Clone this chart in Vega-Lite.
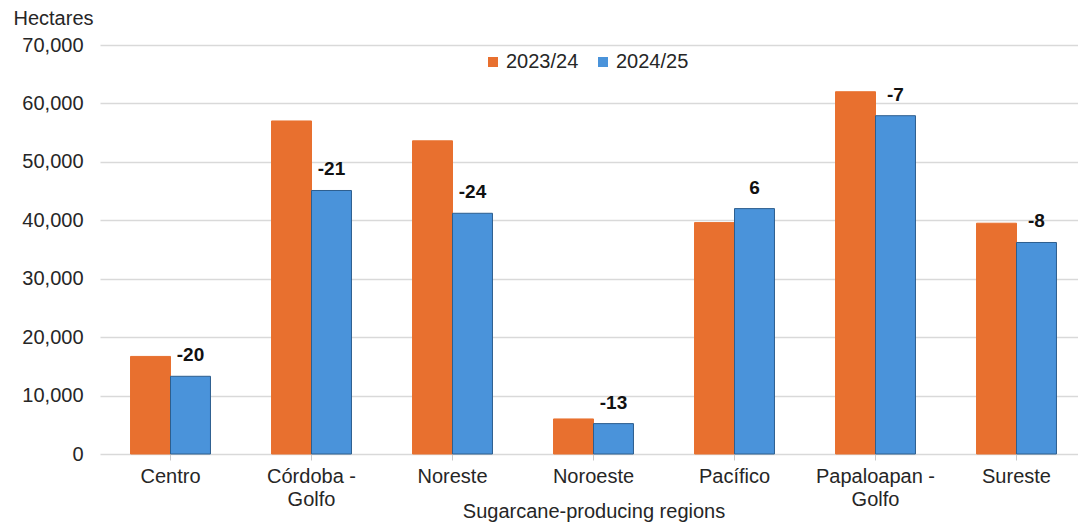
{
  "$schema": "https://vega.github.io/schema/vega-lite/v6.json",
  "width": 987,
  "height": 409,
  "autosize": {"type": "none"},
  "padding": {"left": 100, "top": 45, "right": 0, "bottom": 73},
  "background": "white",
  "config": {
    "view": {"stroke": null},
    "font": "Liberation Sans",
    "axis": {"labelFont": "Liberation Sans", "titleFont": "Liberation Sans"}
  },
  "data": {
    "values": [
      {"region": "Centro", "season": "2023/24", "hectares": 16700, "change": null},
      {"region": "Centro", "season": "2024/25", "hectares": 13300, "change": "-20"},
      {"region": "Córdoba - Golfo", "season": "2023/24", "hectares": 57000, "change": null},
      {"region": "Córdoba - Golfo", "season": "2024/25", "hectares": 45100, "change": "-21"},
      {"region": "Noreste", "season": "2023/24", "hectares": 53600, "change": null},
      {"region": "Noreste", "season": "2024/25", "hectares": 41200, "change": "-24"},
      {"region": "Noroeste", "season": "2023/24", "hectares": 6000, "change": null},
      {"region": "Noroeste", "season": "2024/25", "hectares": 5200, "change": "-13"},
      {"region": "Pacífico", "season": "2023/24", "hectares": 39600, "change": null},
      {"region": "Pacífico", "season": "2024/25", "hectares": 42000, "change": "6"},
      {"region": "Papaloapan - Golfo", "season": "2023/24", "hectares": 62000, "change": null},
      {"region": "Papaloapan - Golfo", "season": "2024/25", "hectares": 57900, "change": "-7"},
      {"region": "Sureste", "season": "2023/24", "hectares": 39500, "change": null},
      {"region": "Sureste", "season": "2024/25", "hectares": 36200, "change": "-8"}
    ]
  },
  "encoding": {
    "x": {
      "field": "region",
      "type": "nominal",
      "sort": null,
      "scale": {"paddingInner": 0.433, "paddingOuter": 0.2165},
      "axis": {
        "title": "Sugarcane-producing regions",
        "titleFontSize": 20,
        "titleFontWeight": "normal",
        "titleColor": "#262626",
        "titleY": 57,
        "titleBaseline": "middle",
        "labelAngle": 0,
        "labelFontSize": 20,
        "labelColor": "#262626",
        "labelLineHeight": 23,
        "labelPadding": 6,
        "labelExpr": "split(replace(datum.value, ' - ', ' -|'), '|')",
        "domain": false,
        "ticks": true,
        "tickSize": 6,
        "tickColor": "#c8c8c8",
        "grid": false
      }
    },
    "xOffset": {"field": "season", "type": "nominal", "scale": {"paddingInner": 0, "paddingOuter": 0}},
    "y": {
      "field": "hectares",
      "type": "quantitative",
      "scale": {"domain": [0, 70000], "nice": false},
      "axis": {
        "title": "Hectares",
        "titleAngle": 0,
        "titleFontSize": 20,
        "titleFontWeight": "normal",
        "titleColor": "#262626",
        "titleX": -87,
        "titleY": -27,
        "titleAlign": "left",
        "titleBaseline": "middle",
        "values": [0, 10000, 20000, 30000, 40000, 50000, 60000, 70000],
        "format": ",d",
        "labelFontSize": 20,
        "labelColor": "#262626",
        "labelPadding": 17,
        "ticks": false,
        "domain": false,
        "grid": true,
        "gridColor": "#d9d9d9",
        "gridWidth": 1.5
      }
    }
  },
  "layer": [
    {
      "mark": {"type": "bar"},
      "encoding": {
        "color": {
          "field": "season",
          "type": "nominal",
          "scale": {"domain": ["2023/24", "2024/25"], "range": ["#E8702F", "#4A93DA"]},
          "legend": {
            "title": null,
            "orient": "none",
            "direction": "horizontal",
            "legendX": 383,
            "legendY": 7,
            "padding": 0,
            "symbolType": "square",
            "symbolSize": 100,
            "symbolStrokeWidth": 0,
            "labelFontSize": 20,
            "labelColor": "#262626",
            "labelOffset": 3,
            "columnPadding": 14
          }
        },
        "stroke": {
          "field": "season",
          "type": "nominal",
          "scale": {"domain": ["2023/24", "2024/25"], "range": ["#E8702F", "#2D5E8E"]},
          "legend": null
        },
        "strokeWidth": {"value": 1}
      }
    },
    {
      "transform": [{"filter": "datum.change != null"}],
      "mark": {"type": "text", "fontSize": 19, "fontWeight": "bold", "color": "#111111", "baseline": "alphabetic", "dy": -15},
      "encoding": {
        "text": {"field": "change", "type": "nominal"}
      }
    }
  ]
}
